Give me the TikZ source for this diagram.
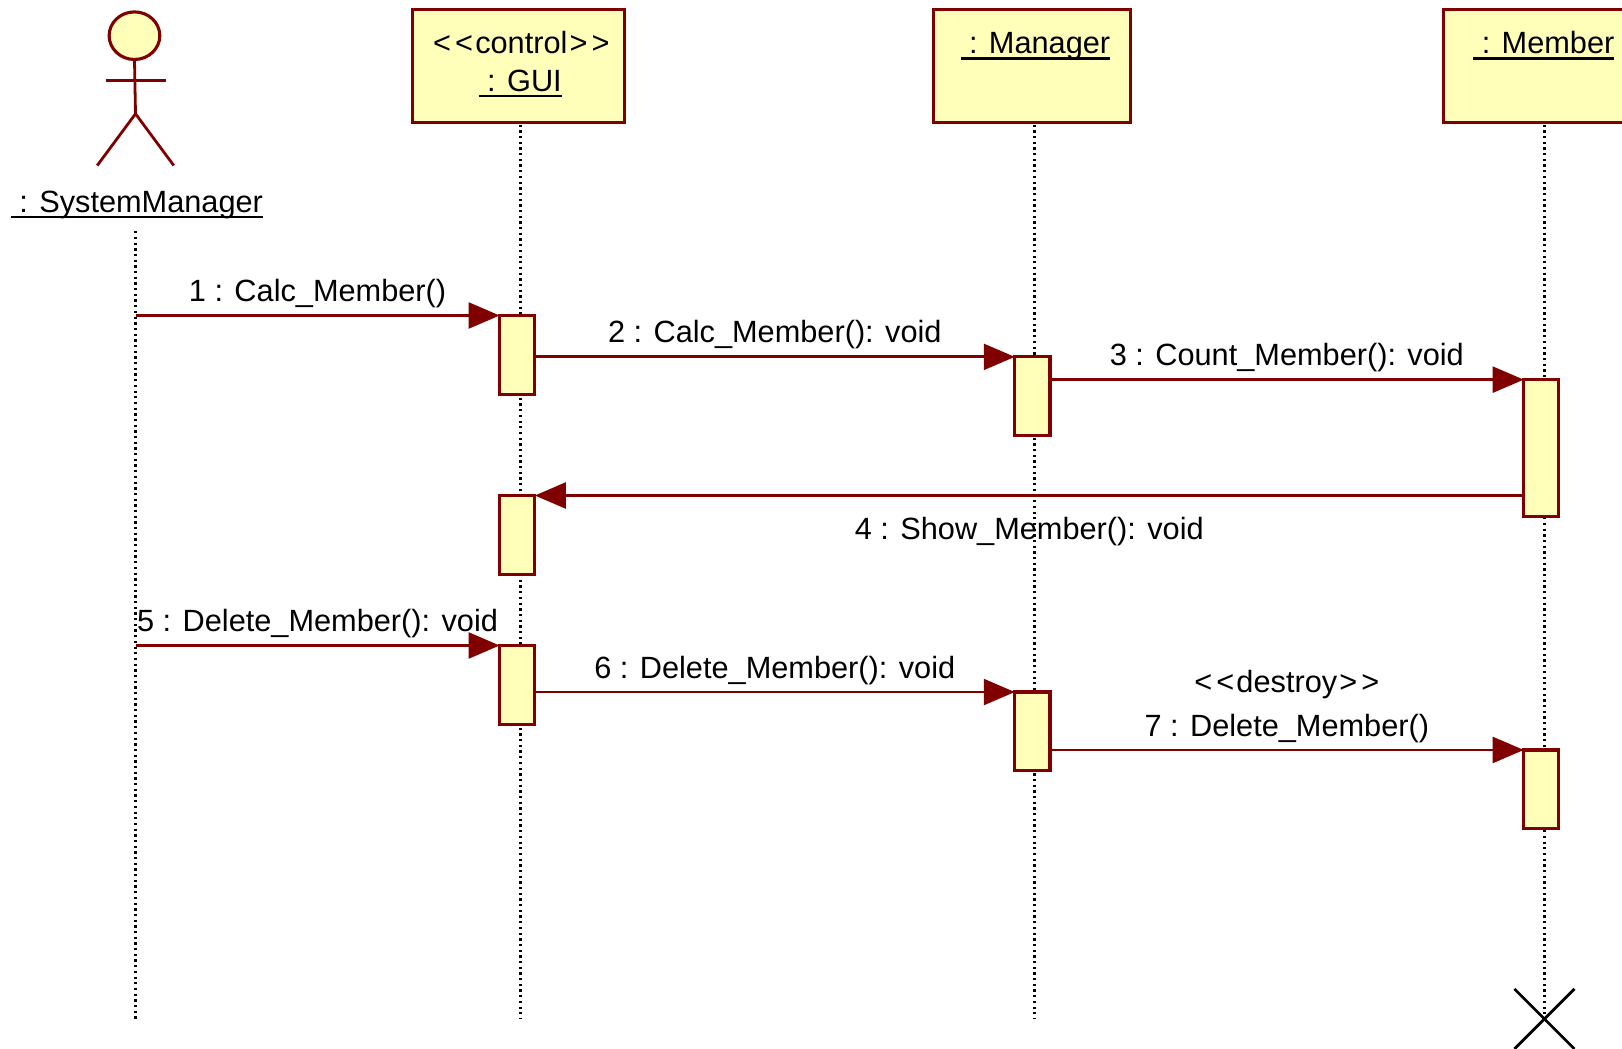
\documentclass[tikz,border=0pt]{standalone}
\usepackage{fontspec}
\setmainfont{Liberation Sans}
\usetikzlibrary{shapes.geometric,positioning,arrows.meta}

\definecolor{umlred}{RGB}{128,0,0}
\definecolor{umlyellow}{RGB}{255,255,185}

% underlined object name, #1 = space before the colon
\newcommand{\objname}[2]{\setbox0=\hbox{\kern#1 #2}\rlap{\vrule width\wd0 height -3.5pt depth 6pt}\box0}
\newcommand{\stereo}[1]{<\kern4pt<\kern2pt#1\kern2pt>\kern4pt>}

\begin{document}
\begin{tikzpicture}[
    x=1pt, y=-1pt,
    every node/.style={outer sep=0pt},
    txt/.style={font=\fontsize{29.7}{36}\selectfont, inner sep=0pt},
    objbox/.style={rectangle, draw=umlred, fill=umlyellow, line width=3pt, minimum height=109pt, anchor=north},
    objtitle/.style={txt, anchor=base},
    activation/.style={rectangle, draw=umlred, fill=umlyellow, line width=3pt, minimum width=34pt, anchor=north},
    actorhead/.style={ellipse, draw=umlred, fill=umlyellow, line width=3pt, minimum width=49pt, minimum height=46pt},
    actorline/.style={draw=umlred, line width=2.7pt},
    lifeline/.style={black, line width=2.4pt, dash pattern=on 2.2pt off 3.3pt, dash phase=3pt},
    msg/.style={draw=umlred, line width=2.7pt, -{Triangle[length=30pt, width=25pt, fill=umlred]}},
    msglabel/.style={txt, midway, anchor=base, yshift=13.5pt}
]
\useasboundingbox (0,0) rectangle (1568,1014);

% Actor: SystemManager
\node[actorhead] (head) at (130,34.5) {};
\coordinate (neck) at (131,78);
\coordinate (hip) at (131,110);
\coordinate (armL) at (102,78);
\coordinate (armR) at (160,78);
\coordinate (legL) at (94,160);
\coordinate (legR) at (168,160);
\draw[actorline] (head.south) -- (hip);
\draw[actorline] (armL) -- (armR);
\draw[actorline] (legL) -- (hip) -- (legR);
\node[objtitle] (sysname) at (132.5,205) {\objname{8pt}{: SystemManager}};

% Row 1: object boxes
\node[objbox, minimum width=205pt] (guibox) at (501.5,9) {};
\node[objbox, minimum width=191pt] (mgrbox) at (997.5,9) {};
\node[objbox, minimum width=210pt] (membox) at (1500,9) {};
\node[objtitle] (guistereo) at (504,52) {\stereo{control}};
\node[objtitle] (guiname) at (503,88) {\objname{8pt}{: GUI}};
\node[objtitle] (mgrname) at (1001,52) {\objname{8pt}{: Manager}};
\node[objtitle] (memname) at (1492.5,52) {\objname{8pt}{: Member}};

% Lifelines
\coordinate (sysend) at (131,985);
\coordinate (sysstart) at (131,221);
\coordinate (guiend) at (503,985);
\coordinate (mgrend) at (1000,985);
\coordinate (memend) at (1493,985);
\draw[lifeline] (sysstart) -- (sysend);
\draw[lifeline] (guibox.south -| guiend) -- (guiend);
\draw[lifeline] (mgrbox.south -| mgrend) -- (mgrend);
\draw[lifeline] (membox.south -| memend) -- (memend);

% Activation bars
\node[activation, minimum height=76pt] (gui1) at (500,305) {};
\node[activation, minimum height=76pt] (gui2) at (500,479) {};
\node[activation, minimum height=76pt] (gui3) at (500,624) {};
\node[activation, minimum height=76pt] (mgr1) at (998,345) {};
\node[activation, minimum height=76pt] (mgr2) at (998,669) {};
\node[activation, minimum height=132pt] (mem1) at (1490,367) {};
\node[activation, minimum height=76pt] (mem2) at (1490,725) {};

% Messages
\draw[msg] (sysend |- gui1.north) -- (gui1.north west) node[msglabel] (lbl1) {1 : Calc\_Member()};
\draw[msg] (gui1.east |- mgr1.north) -- (mgr1.north west) node[msglabel] (lbl2) {2 : Calc\_Member(): void};
\draw[msg] (mgr1.east |- mem1.north) -- (mem1.north west) node[msglabel] (lbl3) {3 : Count\_Member(): void};
\draw[msg] (mem1.west |- gui2.north) -- (gui2.north east) node[msglabel, yshift=-56.5pt] (lbl4) {4 : Show\_Member(): void};
\draw[msg] (sysend |- gui3.north) -- (gui3.north west) node[msglabel] (lbl5) {5 : Delete\_Member(): void};
\draw[msg] (gui3.east |- mgr2.north) -- (mgr2.north west) node[msglabel] (lbl6) {6 : Delete\_Member(): void};
\draw[msg] (mgr2.east |- mem2.north) -- (mem2.north west) node[msglabel] (lbl7) {7 : Delete\_Member()};
\node[objtitle] (lbl7stereo) at ([yshift=42pt]lbl7.base) {\stereo{destroy}};

% Destruction mark
\coordinate (xa) at (1464,956);
\coordinate (xb) at (1522,1014);
\coordinate (xc) at (1522,956);
\coordinate (xd) at (1464,1014);
\draw[black, line width=2.7pt] (xa) -- (xb);
\draw[black, line width=2.7pt] (xc) -- (xd);

\end{tikzpicture}
\end{document}
